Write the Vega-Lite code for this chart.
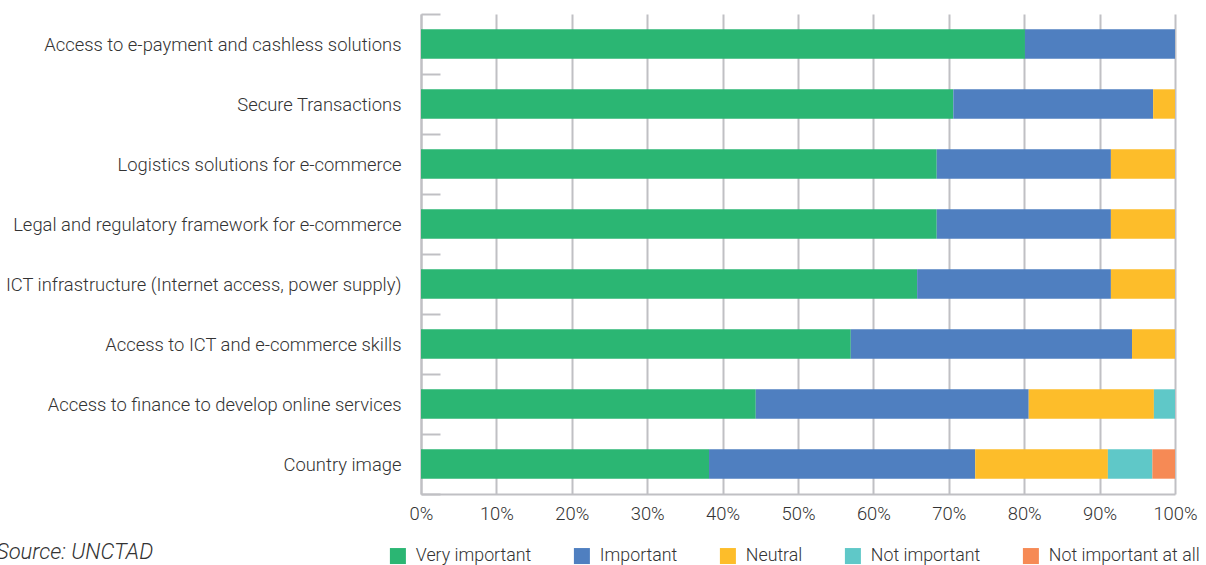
{
  "$schema": "https://vega.github.io/schema/vega-lite/v6.json",
  "autosize": "none",
  "width": 754,
  "height": 480,
  "padding": {"left": 421, "top": 14, "right": 31, "bottom": 71},
  "background": "white",
  "config": {
    "font": "Roboto",
    "view": {"stroke": null}
  },
  "title": {
    "text": "Source: UNCTAD",
    "orient": "bottom",
    "anchor": "start",
    "frame": "group",
    "dx": -425,
    "dy": -23,
    "offset": 0,
    "fontSize": 22,
    "fontStyle": "italic",
    "fontWeight": 300,
    "color": "#333333",
    "font": "Roboto"
  },
  "data": {
    "values": [
      {"cat": "Access to e-payment and cashless solutions", "resp": "Very important", "o": 1, "v": 0.801},
      {"cat": "Access to e-payment and cashless solutions", "resp": "Important", "o": 2, "v": 0.199},
      {"cat": "Secure Transactions", "resp": "Very important", "o": 1, "v": 0.706},
      {"cat": "Secure Transactions", "resp": "Important", "o": 2, "v": 0.265},
      {"cat": "Secure Transactions", "resp": "Neutral", "o": 3, "v": 0.029},
      {"cat": "Logistics solutions for e-commerce", "resp": "Very important", "o": 1, "v": 0.684},
      {"cat": "Logistics solutions for e-commerce", "resp": "Important", "o": 2, "v": 0.231},
      {"cat": "Logistics solutions for e-commerce", "resp": "Neutral", "o": 3, "v": 0.085},
      {"cat": "Legal and regulatory framework for e-commerce", "resp": "Very important", "o": 1, "v": 0.684},
      {"cat": "Legal and regulatory framework for e-commerce", "resp": "Important", "o": 2, "v": 0.231},
      {"cat": "Legal and regulatory framework for e-commerce", "resp": "Neutral", "o": 3, "v": 0.085},
      {"cat": "ICT infrastructure (Internet access, power supply)", "resp": "Very important", "o": 1, "v": 0.658},
      {"cat": "ICT infrastructure (Internet access, power supply)", "resp": "Important", "o": 2, "v": 0.257},
      {"cat": "ICT infrastructure (Internet access, power supply)", "resp": "Neutral", "o": 3, "v": 0.085},
      {"cat": "Access to ICT and e-commerce skills", "resp": "Very important", "o": 1, "v": 0.570},
      {"cat": "Access to ICT and e-commerce skills", "resp": "Important", "o": 2, "v": 0.373},
      {"cat": "Access to ICT and e-commerce skills", "resp": "Neutral", "o": 3, "v": 0.057},
      {"cat": "Access to finance to develop online services", "resp": "Very important", "o": 1, "v": 0.444},
      {"cat": "Access to finance to develop online services", "resp": "Important", "o": 2, "v": 0.362},
      {"cat": "Access to finance to develop online services", "resp": "Neutral", "o": 3, "v": 0.166},
      {"cat": "Access to finance to develop online services", "resp": "Not important", "o": 4, "v": 0.028},
      {"cat": "Country image", "resp": "Very important", "o": 1, "v": 0.382},
      {"cat": "Country image", "resp": "Important", "o": 2, "v": 0.353},
      {"cat": "Country image", "resp": "Neutral", "o": 3, "v": 0.176},
      {"cat": "Country image", "resp": "Not important", "o": 4, "v": 0.059},
      {"cat": "Country image", "resp": "Not important at all", "o": 5, "v": 0.030}
    ]
  },
  "mark": {"type": "bar", "height": {"band": 0.49}},
  "encoding": {
    "y": {
      "field": "cat",
      "type": "nominal",
      "sort": null,
      "title": null,
      "scale": {"paddingInner": 0, "paddingOuter": 0},
      "axis": {
        "domainColor": "#c0c0c4",
        "domainWidth": 2,
        "tickColor": "#c0c0c4",
        "tickWidth": 2,
        "tickSize": -19,
        "tickBand": "extent",
        "labelPadding": 39,
        "labelFontSize": 18.4,
        "labelFontWeight": 300,
        "labelColor": "#333333",
        "labelLimit": 500
      }
    },
    "x": {
      "field": "v",
      "type": "quantitative",
      "stack": "zero",
      "title": null,
      "scale": {"domain": [0, 1], "nice": false},
      "axis": {
        "format": ".0%",
        "values": [0, 0.1, 0.2, 0.3, 0.4, 0.5, 0.6, 0.7, 0.8, 0.9, 1],
        "grid": true,
        "gridColor": "#c0c0c4",
        "gridWidth": 2,
        "domainColor": "#c0c0c4",
        "domainWidth": 2,
        "ticks": false,
        "labelPadding": 10,
        "labelFontSize": 18.4,
        "labelFontWeight": 300,
        "labelColor": "#333333",
        "labelFlush": false
      }
    },
    "order": {"field": "o", "type": "quantitative"},
    "color": {
      "field": "resp",
      "type": "nominal",
      "title": null,
      "scale": {
        "domain": ["Very important", "Important", "Neutral", "Not important", "Not important at all"],
        "range": ["#2bb673", "#4f7fc0", "#fdbd2a", "#5fc8c8", "#f68a55"]
      },
      "legend": {
        "orient": "none",
        "legendX": -32,
        "legendY": 533,
        "direction": "horizontal",
        "symbolType": "square",
        "symbolSize": 256,
        "symbolStrokeWidth": 0,
        "symbolOpacity": 1,
        "labelFontSize": 17.8,
        "labelFontWeight": 300,
        "labelColor": "#333333",
        "labelOffset": 9,
        "columnPadding": 41,
        "labelLimit": 300
      }
    }
  }
}
